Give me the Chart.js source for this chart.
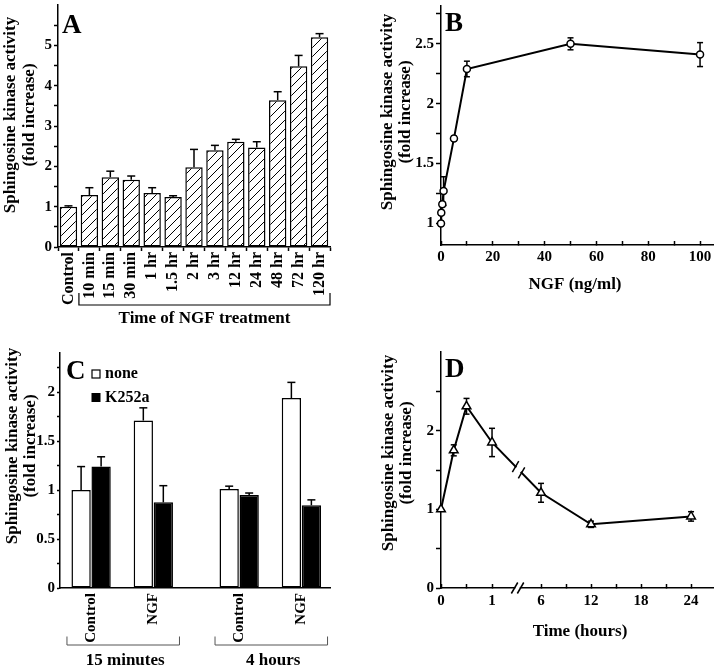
<!DOCTYPE html>
<html><head><meta charset="utf-8">
<script src="https://cdn.jsdelivr.net/npm/chart.js@4.4.1/dist/chart.umd.min.js"></script>
<style>
html,body{margin:0;padding:0;background:#fff;}
#wrap{position:relative;width:720px;height:670px;overflow:hidden;background:#fff;}
canvas{position:absolute;}
</style></head><body>
<div id="wrap">
<canvas id="cA" width="360" height="330" style="left:0;top:0"></canvas>
<canvas id="cB" width="360" height="330" style="left:360px;top:0"></canvas>
<canvas id="cC" width="360" height="340" style="left:0;top:330px"></canvas>
<canvas id="cD" width="360" height="340" style="left:360px;top:330px"></canvas>
</div>
<script>
// ================= DATA =================
// Panel A
const aCategories = ['Control','10 min','15 min','30 min','1 hr','1.5 hr','2 hr','3 hr','12 hr','24 hr','48 hr','72 hr','120 hr'];
const aValues = [1.0, 1.29, 1.73, 1.67, 1.34, 1.24, 1.98, 2.40, 2.61, 2.47, 3.64, 4.48, 5.20];
const aErrors = [0.02, 0.18, 0.15, 0.09, 0.13, 0.03, 0.44, 0.12, 0.06, 0.14, 0.21, 0.27, 0.09];
const aYTicks = [0,0.5,1,1.5,2,2.5,3,3.5,4,4.5,5,5.5];
const aYLabels = [0,1,2,3,4,5];
const aBracketTitle = 'Time of NGF treatment';

// Panel B
const bDose = [0, 0.1, 0.5, 1, 5, 10, 50, 100];
const bValues = [1.0, 1.09, 1.16, 1.27, 1.71, 2.29, 2.50, 2.41];
const bErrors = [0.02, 0.02, 0.02, 0.12, 0.02, 0.065, 0.05, 0.10];
const bXTicks = [0,10,20,30,40,50,60,70,80,90,100];
const bXLabels = [0,20,40,60,80,100];
const bYTicks = [1,1.25,1.5,1.75,2,2.25,2.5,2.75];
const bYLabels = [1,1.5,2,2.5];
const bXTitle = 'NGF (ng/ml)';

// Panel C
const cGroups = ['15 minutes','4 hours'];
const cConditions = ['Control','NGF'];
const cSeriesNames = ['none','K252a'];
const cNone = [1.0, 1.71, 1.01, 1.94];
const cNoneErr = [0.24, 0.13, 0.03, 0.16];
const cK252a = [1.24, 0.875, 0.95, 0.845];
const cK252aErr = [0.10, 0.17, 0.02, 0.055];
const cYTicks = [0,0.25,0.5,0.75,1,1.25,1.5,1.75,2,2.25];
const cYLabels = [0,0.5,1,1.5,2];

// Panel D
const dHours = [0, 0.25, 0.5, 1, 6, 12, 24];
const dValues = [1.0, 1.75, 2.31, 1.85, 1.21, 0.81, 0.91];
const dErrors = [0, 0.07, 0.10, 0.18, 0.12, 0.04, 0.06];
const dXTickHours = [0,0.5,1,6,9,12,15,18,21,24];
const dXLabels = ['0','','1','6','','12','','18','','24'];
const dYTicks = [0,0.5,1,1.5,2,2.5];
const dYLabels = [0,1,2];
const dXTitle = 'Time (hours)';

const yTitleLines = ['Sphingosine kinase activity','(fold increase)'];

// ================= LAYOUT / STYLE =================
const SERIF = '"Liberation Serif","Times New Roman",Times,serif';
Chart.defaults.font.family = SERIF;
Chart.defaults.font.weight = 'bold';
Chart.defaults.color = '#000';

const C_GROUP_GAP = 2.38;           // axis units between the two time groups
const cPos = (g, c) => 1 + g * C_GROUP_GAP + c;
const cXPositions = [];
cGroups.forEach((g, gi) => cConditions.forEach((c, ci) => cXPositions.push(cPos(gi, ci))));
const cXLabels = [];
cGroups.forEach(() => cConditions.forEach(c => cXLabels.push(c)));

// broken time axis for panel D
const pD = t => t <= 1 ? t : 1.96 + (t - 6) * (0.98 / 6);
const D_BREAK = 1.5;

function font(size) { return 'bold ' + size + 'px ' + SERIF; }
function line(ctx, x1, y1, x2, y2) { ctx.beginPath(); ctx.moveTo(x1, y1); ctx.lineTo(x2, y2); ctx.stroke(); }
function text(ctx, s, x, y, size, align) {
  ctx.save(); ctx.font = font(size); ctx.fillStyle = '#000';
  ctx.textAlign = align || 'center'; ctx.textBaseline = 'alphabetic';
  ctx.fillText(s, x, y); ctx.restore();
}
function vTitle(ctx, x0, dx, yc) {
  ctx.save(); ctx.font = font(17); ctx.fillStyle = '#000';
  ctx.textAlign = 'center'; ctx.textBaseline = 'middle';
  yTitleLines.forEach((l, i) => {
    ctx.save(); ctx.translate(x0 + i * dx, yc); ctx.rotate(-Math.PI / 2);
    ctx.fillText(l, 0, 0); ctx.restore();
  });
  ctx.restore();
}
function errBar(ctx, x, yTop, yBot, cap) {
  line(ctx, x, yTop, x, yBot);
  line(ctx, x - cap, yTop, x + cap, yTop);
}

function baseOpts(pad) {
  return {
    responsive: false, animation: false, devicePixelRatio: 1, events: [],
    layout: { padding: pad },
    plugins: { legend: { display: false }, tooltip: { enabled: false }, title: { display: false } }
  };
}
function zeroPad(s) { s.paddingTop = 0; s.paddingBottom = 0; s.paddingLeft = 0; s.paddingRight = 0; }

function yAxis(o) {
  return {
    type: 'linear', position: 'left', min: o.min, max: o.max,
    afterBuildTicks: s => { s.ticks = o.ticks.map(v => ({ value: v })); },
    ticks: { autoSkip: false, padding: o.pad, font: { family: SERIF, size: 15, weight: 'bold' }, color: '#000',
      callback: v => o.labels.includes(v) ? String(v) : '' },
    grid: { display: true, drawOnChartArea: false, drawTicks: true, tickLength: o.tl, tickWidth: 1.5, tickColor: '#000' },
    border: { display: true, color: '#000', width: 1.5 },
    afterFit: s => { s.width = o.width; zeroPad(s); }
  };
}

// hatch pattern
function hatch(ctxTarget) {
  const c = document.createElement('canvas'); const s = 9; c.width = s; c.height = s;
  const g = c.getContext('2d'); g.fillStyle = '#fff'; g.fillRect(0, 0, s, s);
  g.strokeStyle = '#000'; g.lineWidth = 1;
  g.beginPath();
  g.moveTo(0, s); g.lineTo(s, 0);
  g.moveTo(-s, s); g.lineTo(s, -s);
  g.moveTo(0, 2 * s); g.lineTo(2 * s, 0);
  g.stroke();
  return ctxTarget.createPattern(c, 'repeat');
}

// ================= PANEL A =================
const ctxA = document.getElementById('cA').getContext('2d');
const pluginA = {
  id: 'annA',
  afterDatasetsDraw(chart) {
    const { ctx, scales: { x, y } } = chart;
    const meta = chart.getDatasetMeta(0);
    ctx.save(); ctx.strokeStyle = '#000'; ctx.lineWidth = 1.5;
    aValues.forEach((v, i) => {
      const px = meta.data[i].x;
      errBar(ctx, px, y.getPixelForValue(v + aErrors[i]), y.getPixelForValue(v), 4);
    });
    // bracket
    ctx.lineWidth = 1.2;
    const xl = x.getPixelForValue(0.5), xr = x.getPixelForValue(aCategories.length - 0.5);
    ctx.beginPath(); ctx.moveTo(xl, 293); ctx.lineTo(xl, 305); ctx.lineTo(xr, 305); ctx.lineTo(xr, 293); ctx.stroke();
    ctx.restore();
    text(ctx, aBracketTitle, (xl + xr) / 2, 323, 17);
    text(ctx, 'A', 62, 33, 27, 'left');
    vTitle(ctx, 11, 18.5, 115);
  }
};
new Chart(ctxA, {
  type: 'bar',
  data: { labels: aCategories, datasets: [{ data: aValues, backgroundColor: hatch(ctxA), borderColor: '#000', borderWidth: 1.5, borderSkipped: false, categoryPercentage: 1, barPercentage: 0.83 }] },
  options: Object.assign(baseOpts({ left: 0, top: 5, right: 30, bottom: 23 }), {
    scales: {
      x: { type: 'category', offset: true,
        ticks: { autoSkip: false, minRotation: 90, maxRotation: 90, padding: 1, font: { family: SERIF, size: 16, weight: 'bold' }, color: '#000' },
        grid: { display: true, offset: true, drawOnChartArea: false, drawTicks: true, tickLength: 4, tickWidth: 1.5, tickColor: '#000' },
        border: { display: true, color: '#000', width: 1.5 },
        afterFit: s => { s.height = 60; zeroPad(s); } },
      y: yAxis({ min: 0, max: 6, ticks: aYTicks, labels: aYLabels, width: 58, tl: 4, pad: 2 })
    }
  }),
  plugins: [pluginA]
});

// ================= PANEL B =================
const pluginB = {
  id: 'annB',
  beforeDatasetsDraw(chart) {
    const { ctx, scales: { x, y } } = chart;
    ctx.save(); ctx.strokeStyle = '#000'; ctx.lineWidth = 1.5;
    bDose.forEach((d, i) => {
      if (!bErrors[i]) return;
      const px = x.getPixelForValue(d);
      const yt = y.getPixelForValue(bValues[i] + bErrors[i]), yb = y.getPixelForValue(bValues[i] - bErrors[i]);
      line(ctx, px, yt, px, yb); line(ctx, px - 3, yt, px + 3, yt); line(ctx, px - 3, yb, px + 3, yb);
    });
    ctx.restore();
  },
  afterDraw(chart) {
    const { ctx } = chart;
    text(ctx, 'B', 85, 31, 27, 'left');
    vTitle(ctx, 27.5, 18, 112);
    text(ctx, bXTitle, 215, 289, 17);
  }
};
new Chart(document.getElementById('cB'), {
  type: 'line',
  data: { datasets: [{ data: bDose.map((d, i) => ({ x: d, y: bValues[i] })), borderColor: '#000', borderWidth: 2, tension: 0,
    pointStyle: 'circle', pointRadius: 3.5, pointBorderWidth: 1.5, pointBackgroundColor: '#fff', pointBorderColor: '#000', clip: false }] },
  options: Object.assign(baseOpts({ left: 0, top: 5, right: 7, bottom: 35 }), {
    scales: {
      x: { type: 'linear', min: 0, max: 105,
        afterBuildTicks: s => { s.ticks = bXTicks.map(v => ({ value: v })); },
        ticks: { autoSkip: false, maxRotation: 0, padding: 7, font: { family: SERIF, size: 15, weight: 'bold' }, color: '#000',
          callback: v => bXLabels.includes(v) ? String(v) : '' },
        grid: { display: true, drawOnChartArea: false, drawTicks: true, tickLength: -4, tickWidth: 1.5, tickColor: '#000' },
        border: { display: true, color: '#000', width: 1.5 },
        afterFit: s => { s.height = 50; zeroPad(s); } },
      y: yAxis({ min: 0.82, max: 2.82, ticks: bYTicks, labels: bYLabels, width: 81, tl: 5, pad: 2 })
    }
  }),
  plugins: [pluginB]
});

// ================= PANEL C =================
const pluginC = {
  id: 'annC',
  afterDatasetsDraw(chart) {
    const { ctx, scales: { x, y } } = chart;
    ctx.save(); ctx.strokeStyle = '#000'; ctx.lineWidth = 1.5;
    [[cNone, cNoneErr], [cK252a, cK252aErr]].forEach((s, di) => {
      const meta = chart.getDatasetMeta(di);
      s[0].forEach((v, i) => errBar(ctx, meta.data[i].x, y.getPixelForValue(v + s[1][i]), y.getPixelForValue(v), 4));
    });
    // brackets
    ctx.strokeStyle = '#555'; ctx.lineWidth = 1;
    cGroups.forEach((g, gi) => {
      const m0 = chart.getDatasetMeta(0).data[gi * 2], m1 = chart.getDatasetMeta(1).data[gi * 2 + 1];
      const xl = m0.x - m0.width / 2 - 4.5, xr = m1.x + m1.width / 2 + 6.5;
      ctx.beginPath(); ctx.moveTo(xl, 306.5); ctx.lineTo(xl, 315); ctx.lineTo(xr, 315); ctx.lineTo(xr, 306.5); ctx.stroke();
      text(ctx, g, (xl + xr) / 2 + 2, 335, 17);
    });
    // legend
    ctx.strokeStyle = '#000'; ctx.lineWidth = 1.2;
    ctx.fillStyle = '#fff'; ctx.fillRect(92, 40, 8, 8); ctx.strokeRect(92, 40, 8, 8);
    ctx.fillStyle = '#000'; ctx.fillRect(91.5, 63, 9, 9);
    ctx.restore();
    text(ctx, cSeriesNames[0], 105, 48, 16, 'left');
    text(ctx, cSeriesNames[1], 105, 71.5, 16, 'left');
    text(ctx, 'C', 66, 49, 27, 'left');
    vTitle(ctx, 12.5, 18.5, 116);
  }
};
new Chart(document.getElementById('cC'), {
  type: 'bar',
  data: { datasets: [
    { label: cSeriesNames[0], data: cXPositions.map((p, i) => ({ x: p, y: cNone[i] })), backgroundColor: '#fff', borderColor: '#000', borderWidth: 1.5, borderSkipped: false, categoryPercentage: 0.643, barPercentage: 0.965 },
    { label: cSeriesNames[1], data: cXPositions.map((p, i) => ({ x: p, y: cK252a[i] })), backgroundColor: '#000', borderColor: '#000', borderWidth: 1.5, borderSkipped: false, categoryPercentage: 0.643, barPercentage: 0.965 }
  ] },
  options: Object.assign(baseOpts({ left: 0, top: 23, right: 30, bottom: 22 }), {
    scales: {
      x: { type: 'linear', min: 0.5, max: 4.84, offset: false,
        afterBuildTicks: s => { s.ticks = cXPositions.map(v => ({ value: v })); },
        ticks: { autoSkip: false, minRotation: 90, maxRotation: 90, padding: 5, font: { family: SERIF, size: 15, weight: 'bold' }, color: '#000',
          callback: (v, i) => cXLabels[i] },
        grid: { display: false, offset: false, drawTicks: false },
        border: { display: true, color: '#000', width: 1.5 },
        afterFit: s => { s.height = 60; zeroPad(s); } },
      y: yAxis({ min: 0, max: 2.4, ticks: cYTicks, labels: cYLabels, width: 60, tl: 3, pad: 2 })
    }
  }),
  plugins: [pluginC]
});

// ================= PANEL D =================
function breakMark(ctx, cx, cy, slope) {
  const g = 3, h = 5.5, w = 3.2;
  ctx.save();
  ctx.strokeStyle = '#fff'; ctx.lineWidth = 4;
  line(ctx, cx - g + 0.8, cy - slope * (g - 0.8), cx + g - 0.8, cy + slope * (g - 0.8));
  ctx.strokeStyle = '#000'; ctx.lineWidth = 1.5;
  [-1, 1].forEach(s => {
    const mx = cx + s * g, my = cy + s * slope * g;
    line(ctx, mx - w, my + h, mx + w, my - h);
  });
  ctx.restore();
}
const pluginD = {
  id: 'annD',
  beforeDatasetsDraw(chart) {
    const { ctx, scales: { x, y } } = chart;
    ctx.save(); ctx.strokeStyle = '#000'; ctx.lineWidth = 1.5;
    dHours.forEach((t, i) => {
      if (!dErrors[i]) return;
      const px = x.getPixelForValue(pD(t));
      const yt = y.getPixelForValue(dValues[i] + dErrors[i]), yb = y.getPixelForValue(dValues[i] - dErrors[i]);
      line(ctx, px, yt, px, yb); line(ctx, px - 3, yt, px + 3, yt); line(ctx, px - 3, yb, px + 3, yb);
    });
    ctx.restore();
  },
  afterDatasetsDraw(chart) {
    const { ctx, scales: { x, y } } = chart;
    const meta = chart.getDatasetMeta(0);
    const a = meta.data[3], b = meta.data[4];
    const bx = x.getPixelForValue(D_BREAK);
    const slope = (b.y - a.y) / (b.x - a.x);
    breakMark(ctx, bx + 1, a.y + slope * (bx + 1 - a.x), slope);
    breakMark(ctx, bx, y.getPixelForValue(0), 0);
  },
  afterDraw(chart) {
    const { ctx } = chart;
    text(ctx, 'D', 85, 47, 27, 'left');
    vTitle(ctx, 29, 17.5, 123);
    text(ctx, dXTitle, 220, 306, 17);
  }
};
new Chart(document.getElementById('cD'), {
  type: 'line',
  data: { datasets: [{ data: dHours.map((t, i) => ({ x: pD(t), y: dValues[i] })), borderColor: '#000', borderWidth: 2, tension: 0,
    pointStyle: 'triangle', pointRadius: 5, pointBorderWidth: 1.5, pointBackgroundColor: '#fff', pointBorderColor: '#000', clip: false }] },
  options: Object.assign(baseOpts({ left: 0, top: 22, right: 7, bottom: 32 }), {
    scales: {
      x: { type: 'linear', min: 0, max: 5.33,
        afterBuildTicks: s => { s.ticks = dXTickHours.map(t => ({ value: pD(t) })); },
        ticks: { autoSkip: false, maxRotation: 0, padding: 8, font: { family: SERIF, size: 15, weight: 'bold' }, color: '#000',
          callback: (v, i) => dXLabels[i] },
        grid: { display: true, drawOnChartArea: false, drawTicks: true, tickLength: -4, tickWidth: 1.5, tickColor: '#000' },
        border: { display: true, color: '#000', width: 1.5 },
        afterFit: s => { s.height = 50; zeroPad(s); } },
      y: yAxis({ min: 0, max: 3, ticks: dYTicks, labels: dYLabels, width: 81, tl: 5, pad: 2 })
    }
  }),
  plugins: [pluginD]
});
</script>
</body></html>
